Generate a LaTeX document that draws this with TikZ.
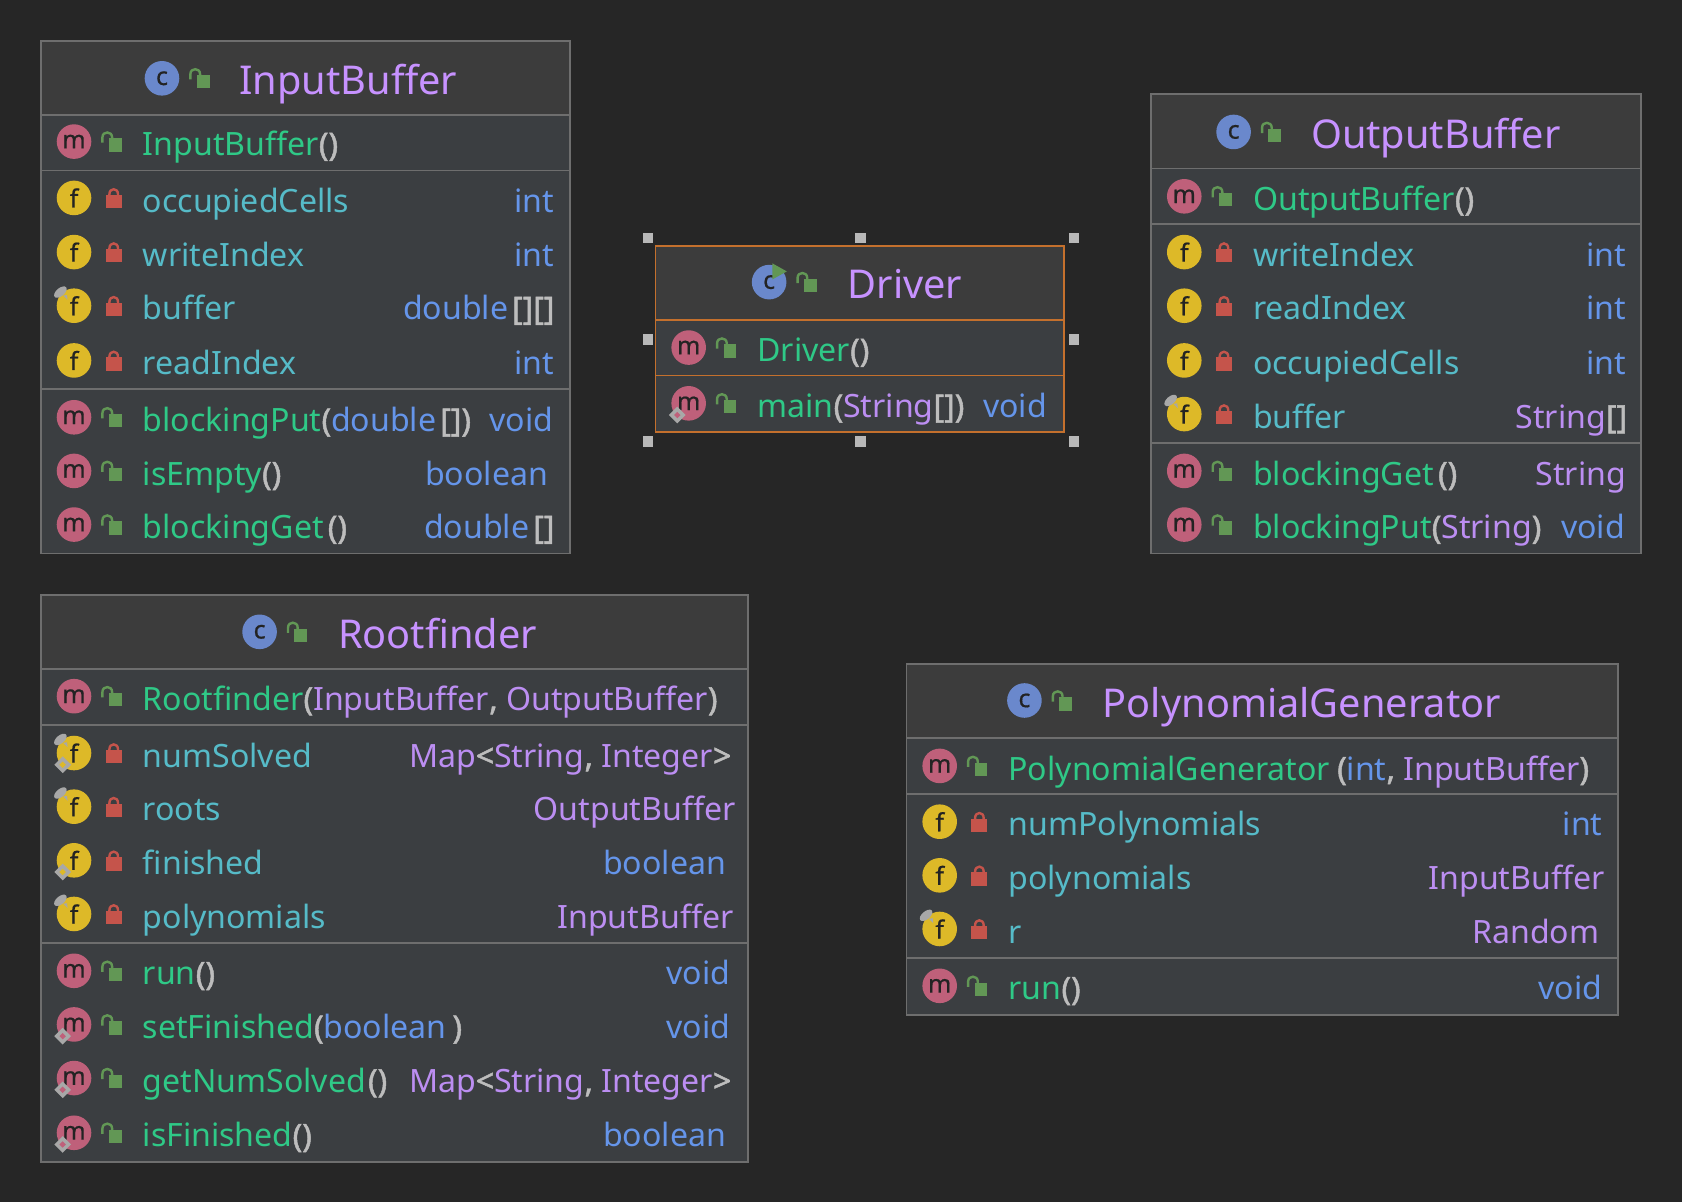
\documentclass[tikz,border=0pt]{standalone}
\usepackage{fontspec}
\setmainfont{Noto Sans}
\usetikzlibrary{positioning}
\definecolor{canvasgrey}{HTML}{262626}
\definecolor{headgrey}{HTML}{3C3C3C}
\definecolor{rowgrey}{HTML}{3B3E41}
\definecolor{framegrey}{HTML}{6E6E6E}
\definecolor{selorange}{HTML}{C4702D}
\definecolor{handlegrey}{HTML}{B8B8B8}
\definecolor{titlepurple}{HTML}{C792FF}
\definecolor{methodgreen}{HTML}{2FC987}
\definecolor{fieldcyan}{HTML}{56BBC8}
\definecolor{typeblue}{HTML}{6595EA}
\definecolor{classpurple}{HTML}{BC8EF2}
\definecolor{pungrey}{HTML}{BDBDBD}
\definecolor{classblue}{HTML}{6A88CC}
\definecolor{methodpink}{HTML}{BF607A}
\definecolor{fieldgold}{HTML}{DDB928}
\definecolor{lockgreen}{HTML}{629755}
\definecolor{lockred}{HTML}{C5544B}
\definecolor{icondark}{HTML}{232323}
\definecolor{pingrey}{HTML}{A8A8A8}
\newcommand{\mth}[1]{\textcolor{methodgreen}{#1}}
\newcommand{\fld}[1]{\textcolor{fieldcyan}{#1}}
\newcommand{\typ}[1]{\textcolor{typeblue}{#1}}
\newcommand{\cls}[1]{\textcolor{classpurple}{#1}}
\newcommand{\pun}[1]{\textcolor{pungrey}{\addfontfeature{FakeBold=1.5}#1}}
\tikzset{
  classicon/.style={circle, inner sep=0pt, minimum size=34.6pt, text=icondark, font=\fontsize{25}{25}\selectfont\addfontfeature{FakeBold=0.6}},
  rowtext/.style={anchor=base west, inner sep=0pt, font=\fontsize{32.1}{32}\selectfont},
  typetext/.style={anchor=base east, inner sep=0pt, font=\fontsize{32.1}{32}\selectfont},
  titletext/.style={anchor=base west, inner sep=0pt, text=titlepurple, font=\fontsize{39.7}{40}\selectfont},
  handle/.style={fill=handlegrey, inner sep=0pt, minimum size=10.5pt},
  pics/lockopen/.style={code={
    \fill[lockgreen] (-3,-3) rectangle (9,9.4);
    \draw[lockgreen, line width=2.4pt] (-9,1) -- (-9,-4) .. controls (-9,-10) and (0,-10) .. (0,-4) -- (0,-2);
  }},
  pics/lockshut/.style={code={
    \fill[lockred] (-7.5,-2.8) rectangle (7.5,9.6);
    \draw[lockred, line width=2.4pt] (-4,-2) -- (-4,-3.5) .. controls (-4,-9.6) and (4,-9.6) .. (4,-3.5) -- (4,-2);
  }},
  pics/pinmark/.style={code={
    \fill[pingrey, shift={(-12.7,-12.7)}, rotate=40] (0,0) ellipse (7.5pt and 4pt);
    \fill[pingrey] (-10,-9.5) -- (-6,-5.5) -- (-6.5,-10) -- cycle;
  }},
  pics/finalmark/.style={code={
    \fill[pingrey] (-18.4,10.9) -- (-10.6,3.1) -- (-2.8,10.9) -- (-10.6,18.7) -- cycle;
    \fill[#1] (-13.6,10.9) -- (-10.6,7.9) -- (-7.6,10.9) -- (-10.6,13.9) -- cycle;
  }},
  pics/runmark/.style={code={
    \fill[lockgreen] (3,-17.5) -- (16.5,-10) -- (3,-2.5) -- cycle;
  }},
}
% box body, header strip and frame: name, left, top, right, bottom, header line, colour
\newcommand{\umlbox}[7]{
  \fill[rowgrey] (#2,#3) rectangle (#4,#5);
  \fill[headgrey] (#2,#3) rectangle (#4,#6);
  \node[draw=#7, line width=1.8pt, fill=none, inner sep=0pt, minimum width={(#4-#2)*1.0727pt}, minimum height={(#5-#3)*1.0727pt}] (#1) at ({(#2+#4)/2},{(#3+#5)/2}) {};
  \draw[#7, line width=1.8pt] (#2,#6) -- (#4,#6);
}
% class icon and title: name, icon x, y, title x, title
\newcommand{\umlhead}[5]{
  \node[classicon, fill=classblue] (#1c) at (#2,#3) {c};
  \pic at (#2+35.5,#3) {lockopen};
  \node[titletext] (#1t) at (#4,#3+15.5) {#5};
}
% rows: name, left, y, text, type, right end of type
\newcommand{\mrow}[6]{
  \node[classicon, fill=methodpink] (#1) at (#2+31,#3) {m};
  \pic at (#2+66.5,#3) {lockopen};
  \node[rowtext] (#1n) at (#2+95,#3+13.2) {#4};
  \node[typetext] (#1y) at (#6+1,#3+13.2) {#5};
}
\newcommand{\frow}[6]{
  \node[classicon, fill=fieldgold] (#1) at (#2+31,#3) {f};
  \pic at (#2+68,#3) {lockshut};
  \node[rowtext] (#1n) at (#2+95,#3+13.2) {\fld{#4}};
  \node[typetext] (#1y) at (#6+1,#3+13.2) {#5};
}
\begin{document}
\begin{tikzpicture}[x=1.0727pt,y=-1.0727pt]
\fill[canvasgrey] (0,0) rectangle (1568,1120.5);
\useasboundingbox (0,0) rectangle (1568,1120.5);
% InputBuffer
\umlbox{inbuf}{38}{38}{531}{516}{107}{framegrey}
\draw[framegrey, line width=1.8pt] (38,159) -- (531,159) (38,363) -- (531,363);
\umlhead{inbuf}{151}{73}{223}{InputBuffer}
\mrow{ibctor}{38}{132}{\mth{InputBuffer}\pun{()}}{}{516}
\frow{ibocc}{38}{184.5}{occupiedCells}{\typ{int}}{516}
\frow{ibwrite}{38}{235}{writeIndex}{\typ{int}}{516}
\frow{ibbuf}{38}{285}{buffer}{\typ{double}\hspace{4pt}\pun{[][]}}{516}
\frow{ibread}{38}{336}{readIndex}{\typ{int}}{516}
\mrow{ibput}{38}{389}{\mth{blockingPut}\pun{(}\typ{double}\hspace{4pt}\pun{[])}}{\typ{void}}{515}
\mrow{ibempty}{38}{439}{\mth{isEmpty}\pun{()}}{\typ{boolean}}{510}
\mrow{ibget}{38}{489}{\mth{blockingGet}\hspace{4pt}\pun{()}}{\typ{double}\hspace{4pt}\pun{[]}}{516}
\pic at (ibbuf) {pinmark};
% Driver
\umlbox{drv}{611}{229}{992}{403}{298}{selorange}
\draw[selorange, line width=1.8pt] (611,350) -- (992,350);
\umlhead{drv}{717}{263}{790}{Driver}
\pic at (drvc) {runmark};
\mrow{drctor}{611}{324}{\mth{Driver}\pun{()}}{}{976}
\mrow{drmain}{611}{376}{\mth{main}\pun{(}\cls{String}\pun{[])}}{\typ{void}}{975}
\pic at (drmain) {finalmark=methodpink};
\foreach \hx/\hy [count=\hn] in {604/222,802/222,1001/222,604/316.5,1001/316.5,604/411.5,802/411.5,1001/411.5}
  \node[handle] (handle\hn) at (\hx,\hy) {};
% OutputBuffer
\umlbox{outbuf}{1073}{88}{1530}{516}{157}{framegrey}
\draw[framegrey, line width=1.8pt] (1073,209) -- (1530,209) (1073,413) -- (1530,413);
\umlhead{outbuf}{1150}{123}{1222}{OutputBuffer}
\mrow{obctor}{1073}{183}{\mth{OutputBuffer}\pun{()}}{}{1515}
\frow{obwrite}{1073}{235}{writeIndex}{\typ{int}}{1515}
\frow{obread}{1073}{285}{readIndex}{\typ{int}}{1515}
\frow{obocc}{1073}{336}{occupiedCells}{\typ{int}}{1515}
\frow{obbuf}{1073}{386}{buffer}{\cls{String}\pun{[]}}{1516}
\mrow{obget}{1073}{439}{\mth{blockingGet}\hspace{4pt}\pun{()}}{\cls{String}}{1515}
\mrow{obput}{1073}{489}{\mth{blockingPut}\pun{(}\cls{String}\pun{)}}{\typ{void}}{1514}
\pic at (obbuf) {pinmark};
% Rootfinder
\umlbox{rootf}{38}{555}{697}{1083}{624}{framegrey}
\draw[framegrey, line width=1.8pt] (38,676) -- (697,676) (38,879) -- (697,879);
\umlhead{rootf}{242}{589}{315}{Rootfinder}
\mrow{rfctor}{38}{649}{\mth{Rootfinder}\pun{(}\cls{InputBuffer}\pun{,} \cls{OutputBuffer}\pun{)}}{}{681}
\frow{rfnum}{38}{702}{numSolved}{\cls{Map}\pun{<}\cls{String}\pun{,} \cls{Integer}\pun{>}}{681}
\frow{rfroots}{38}{752}{roots}{\cls{OutputBuffer}}{685}
\frow{rffin}{38}{802}{finished}{\typ{boolean}}{676}
\frow{rfpoly}{38}{852}{polynomials}{\cls{InputBuffer}}{683}
\mrow{rfrun}{38}{905}{\mth{run}\pun{()}}{\typ{void}}{680}
\mrow{rfset}{38}{955}{\mth{setFinished}\pun{(}\typ{boolean}\hspace{6pt}\pun{)}}{\typ{void}}{680}
\mrow{rfget}{38}{1005}{\mth{getNumSolved}\hspace{2pt}\pun{()}}{\cls{Map}\pun{<}\cls{String}\pun{,} \cls{Integer}\pun{>}}{681}
\mrow{rfis}{38}{1056}{\mth{isFinished}\pun{()}}{\typ{boolean}}{676}
\pic at (rfnum) {pinmark};
\pic at (rfnum) {finalmark=fieldgold};
\pic at (rfroots) {pinmark};
\pic at (rffin) {finalmark=fieldgold};
\pic at (rfpoly) {pinmark};
\pic at (rfset) {finalmark=methodpink};
\pic at (rfget) {finalmark=methodpink};
\pic at (rfis) {finalmark=methodpink};
% PolynomialGenerator
\umlbox{polyg}{845}{619}{1508}{946}{688}{framegrey}
\draw[framegrey, line width=1.8pt] (845,740) -- (1508,740) (845,893) -- (1508,893);
\umlhead{polyg}{955}{653}{1028}{PolynomialGenerator}
\mrow{pgctor}{845}{714}{\mth{PolynomialGenerator}\hspace{7pt}\pun{(}\typ{int}\pun{,} \cls{InputBuffer}\pun{)}}{}{1493}
\frow{pgnum}{845}{766}{numPolynomials}{\typ{int}}{1493}
\frow{pgpoly}{845}{816}{polynomials}{\cls{InputBuffer}}{1495}
\frow{pgr}{845}{866}{r}{\cls{Random}}{1490}
\mrow{pgrun}{845}{919}{\mth{run}\pun{()}}{\typ{void}}{1493}
\pic at (pgr) {pinmark};
\end{tikzpicture}
\end{document}
